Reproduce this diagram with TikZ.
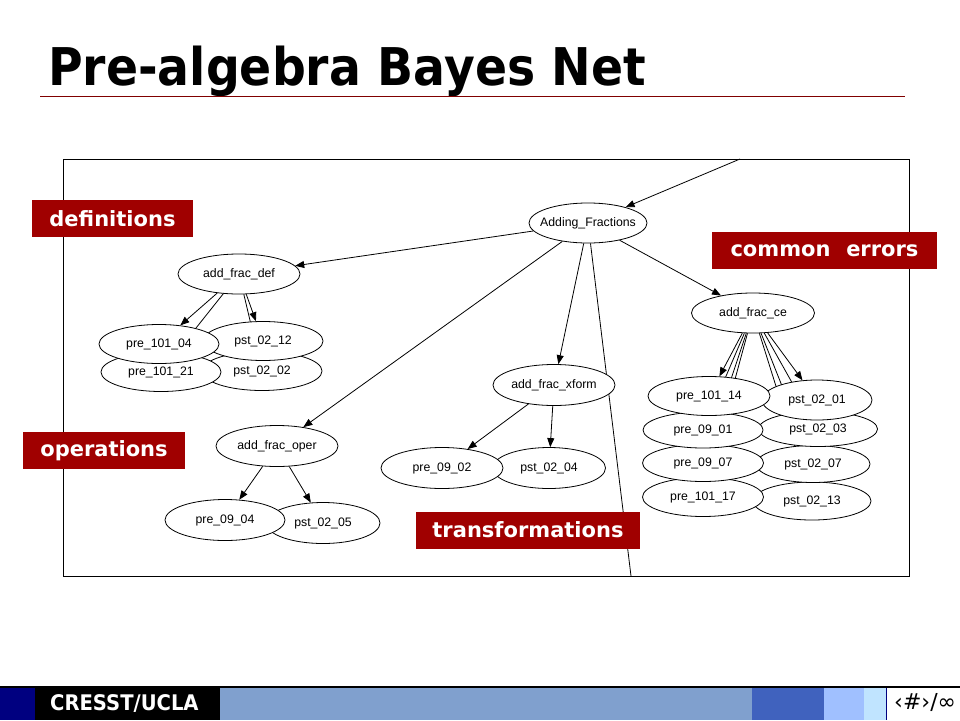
\documentclass[tikz,border=0pt]{standalone}
\usepackage{fontspec}
\setmainfont{Liberation Sans}
\newfontfamily\headfont{DejaVu Sans}[FakeStretch=0.91]
\newfontfamily\tagfont{DejaVu Sans}
\usetikzlibrary{shapes.geometric,arrows.meta,backgrounds}
\definecolor{tagred}{RGB}{160,0,0}
\definecolor{rulered}{RGB}{128,0,0}
\definecolor{navy}{RGB}{0,0,128}
\definecolor{steel}{RGB}{128,160,206}
\definecolor{midblue}{RGB}{64,98,190}
\definecolor{lightblue}{RGB}{160,192,255}
\definecolor{paleblue}{RGB}{192,228,255}

\begin{document}
\begin{tikzpicture}[x=1pt,y=-1pt,
    bnode/.style={draw,ellipse,fill=white,inner sep=0pt,minimum width=120pt,minimum height=39pt,
      line width=0.8pt,font=\fontsize{12.3}{14}\selectfont},
    link/.style={-{Triangle[length=9pt,width=7pt]},line width=0.8pt},
    tag/.style={fill=tagred,text=white,inner sep=0pt,minimum height=37pt,
      font=\tagfont\bfseries\fontsize{21}{24}\selectfont}]
  \useasboundingbox (0,0) rectangle (960,720);

  \node[anchor=base west,inner sep=0pt,font=\headfont\bfseries\fontsize{52}{60}\selectfont] (title) at (48,85) {Pre-algebra Bayes Net};
  \draw[rulered,line width=1pt] (40,96) -- (905,96);
  \draw[line width=0.8pt] (63,159) rectangle (909,576);
  \coordinate (in) at (740,159);
  \coordinate (out) at (631,576);

  % upper nodes are drawn last, so they lie on top
  \node[bnode,inner xsep=-7pt,minimum width=118pt,minimum height=40pt] (adding) at (588,223) {Adding\_Fractions};
  \node[bnode,minimum width=122pt,minimum height=40pt] (def) at (239,274) {add\_frac\_def};
  \node[bnode] (pst0202) at (262,371) {pst\_02\_02};
  \node[bnode] (pst0212) at (263,341) {pst\_02\_12};
  \node[bnode] (pre10121) at (161,372) {pre\_101\_21};
  \node[bnode] (pre10104) at (159,344) {pre\_101\_04};
  \node[bnode,minimum width=122pt,minimum height=41pt] (oper) at (277,446) {add\_frac\_oper};
  \node[bnode,minimum width=114pt,minimum height=41pt] (pst0205) at (323,523) {pst\_02\_05};
  \node[bnode,minimum height=41pt] (pre0904) at (225,520) {pre\_09\_04};
  \node[bnode,inner xsep=-2pt,minimum width=122pt,minimum height=41pt] (xform) at (554,385) {add\_frac\_xform};
  \node[bnode,minimum width=113pt,minimum height=41pt] (pst0204) at (549,468) {pst\_02\_04};
  \node[bnode,minimum width=122pt,minimum height=41pt] (pre0902) at (442,468) {pre\_09\_02};
  \node[bnode,minimum width=123pt,minimum height=40pt] (ce) at (753,313) {add\_frac\_ce};
  \node[bnode,minimum width=118pt,minimum height=38pt] (pst0213) at (812,501) {pst\_02\_13};
  \node[bnode,minimum width=114pt,minimum height=37pt] (pst0207) at (813,464) {pst\_02\_07};
  \node[bnode,minimum width=119pt,minimum height=35pt] (pst0203) at (818,429) {pst\_02\_03};
  \node[bnode,minimum width=110pt,minimum height=40pt] (pst0201) at (817,400) {pst\_02\_01};
  \node[bnode,minimum width=121pt,minimum height=39pt] (pre10117) at (703,497) {pre\_101\_17};
  \node[bnode,minimum width=121pt,minimum height=37pt] (pre0907) at (703,463) {pre\_09\_07};
  \node[bnode,minimum width=120pt,minimum height=36pt] (pre0901) at (703,430) {pre\_09\_01};
  \node[bnode,minimum width=122pt,minimum height=39pt] (pre10114) at (709,396) {pre\_101\_14};

  \begin{pgfonlayer}{background}
    \draw[link] (in) -- (adding);
    \draw[link] (adding) -- (def);
    \draw[link] (adding) -- (oper);
    \draw[link] (adding) -- (xform);
    \draw[link] (adding) -- (ce);
    \draw[line width=0.8pt] (adding) -- (out);
    \draw[link] (def) -- (pre10104);
    \draw[link] (def) -- (pre10121);
    \draw[link] (def) -- (pst0212);
    \draw[link] (def) -- (pst0202);
    \draw[link] (oper) -- (pre0904);
    \draw[link] (oper) -- (pst0205);
    \draw[link] (xform) -- (pre0902);
    \draw[link] (xform) -- (pst0204);
    \foreach \n in {pre10114,pre0901,pre0907,pre10117,pst0201,pst0203,pst0207,pst0213}
      \draw[link] (ce) -- (\n);
  \end{pgfonlayer}

  \node[tag,minimum width=161pt] (definitions) at (112.5,218.5) {definitions};
  \node[tag,minimum width=225pt] (errors) at (824.5,250.5) {common\hspace{0.4em} errors};
  \node[tag,minimum width=162pt] (operations) at (104,450.5) {operations};
  \node[tag,minimum width=224pt] (transformations) at (528,530) {transformations};

  \fill[navy] (0,688) rectangle (35,720);
  \fill[black] (35,688) rectangle (220,720);
  \fill[steel] (220,688) rectangle (752,720);
  \fill[midblue] (752,688) rectangle (824,720);
  \fill[lightblue] (824,688) rectangle (864,720);
  \fill[paleblue] (864,688) rectangle (886,720);
  \draw[line width=2pt] (0,687) -- (960,687);
  \draw[navy,line width=1.5pt] (886.5,688) -- (886.5,720);
  \node[anchor=west,inner sep=0pt,text=white,font=\headfont\bfseries\fontsize{21.5}{24}\selectfont] (org) at (50,704) {CRESST/UCLA};
  \node[anchor=west,inner sep=0pt,font=\tagfont\fontsize{22}{24}\selectfont] (slide) at (894,702) {‹\#›/∞};
\end{tikzpicture}
\end{document}
